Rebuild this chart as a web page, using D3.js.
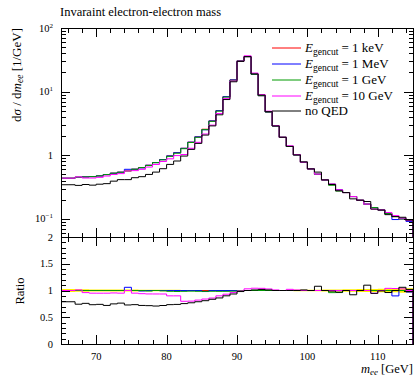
<!DOCTYPE html>
<html>
<head>
<meta charset="utf-8">
<script src="https://d3js.org/d3.v7.min.js"></script>
<style>
body { margin: 0; background: #fff; }
text { font-family: "Liberation Serif", serif; fill: #000; }
.tick line { stroke: #000; }
</style>
</head>
<body>
<svg id="chart" width="414" height="377"></svg>
<script>
// bin edges, 1 GeV wide, 65..115
var edges = d3.range(65, 116, 1);

// dsigma/dm_ee per bin
var ekev = [0.437, 0.437, 0.453, 0.458, 0.463, 0.475, 0.498, 0.524, 0.543, 0.569,
  0.605, 0.641, 0.699, 0.768, 0.856, 0.979, 1.10, 1.29, 1.61, 1.95,
  2.57, 3.47, 5.03, 8.35, 15.3, 30.5, 35.5, 18.8, 8.65, 4.80,
  2.89, 1.92, 1.38, 1.015, 0.779, 0.612, 0.505, 0.411, 0.352, 0.286,
  0.260, 0.225, 0.197, 0.171, 0.151, 0.139, 0.1216, 0.109, 0.1004, 0.0944];
var emev = [0.437, 0.437, 0.453, 0.458, 0.463, 0.475, 0.498, 0.524, 0.543, 0.603,
  0.605, 0.635, 0.699, 0.768, 0.856, 0.979, 1.10, 1.29, 1.61, 1.95,
  2.52, 3.47, 5.03, 8.35, 15.3, 30.5, 35.5, 18.8, 8.65, 4.80,
  2.89, 1.92, 1.38, 1.015, 0.779, 0.612, 0.505, 0.411, 0.352, 0.286,
  0.260, 0.225, 0.197, 0.171, 0.151, 0.139, 0.1216, 0.098, 0.1004, 0.0916];
var egev = [0.437, 0.437, 0.453, 0.458, 0.463, 0.475, 0.498, 0.524, 0.543, 0.569,
  0.605, 0.641, 0.692, 0.768, 0.850, 0.964, 1.08, 1.27, 1.59, 1.92,
  2.53, 3.42, 4.95, 8.22, 15.1, 30.5, 35.5, 18.8, 8.65, 4.80,
  2.89, 1.92, 1.38, 1.015, 0.779, 0.612, 0.505, 0.411, 0.338, 0.275,
  0.260, 0.225, 0.197, 0.171, 0.151, 0.139, 0.1216, 0.109, 0.1004, 0.0944];
var e10gev = [0.437, 0.437, 0.458, 0.440, 0.440, 0.451, 0.473, 0.500, 0.516, 0.569,
  0.575, 0.603, 0.654, 0.718, 0.800, 0.881, 0.990, 1.03, 1.29, 1.60,
  2.16, 2.98, 4.53, 7.77, 14.7, 30.2, 36.6, 19.6, 9.00, 4.94,
  2.92, 1.92, 1.41, 1.025, 0.779, 0.612, 0.505, 0.411, 0.352, 0.286,
  0.260, 0.225, 0.197, 0.171, 0.143, 0.139, 0.1265, 0.113, 0.1034, 0.0944];
var noqed = [0.345, 0.345, 0.337, 0.348, 0.340, 0.352, 0.359, 0.393, 0.415, 0.415,
  0.445, 0.462, 0.501, 0.545, 0.616, 0.720, 0.814, 0.974, 1.24, 1.54,
  2.08, 2.90, 4.33, 7.52, 14.3, 29.9, 35.5, 19.0, 8.82, 4.85,
  2.89, 1.92, 1.38, 1.015, 0.787, 0.612, 0.545, 0.411, 0.348, 0.277,
  0.260, 0.207, 0.197, 0.188, 0.143, 0.138, 0.117, 0.109, 0.1064, 0.0963];
// relative stat. error of the reference (yellow band)
var refErr = [0.03, 0.03, 0.025, 0.025, 0.02, 0.02, 0.02, 0.02, 0.02, 0.02,
  0.02, 0.015, 0.015, 0.015, 0.015, 0.012, 0.012, 0.01, 0.01, 0.01,
  0.008, 0.007, 0.006, 0.005, 0.004, 0.003, 0.003, 0.004, 0.005, 0.007,
  0.008, 0.01, 0.01, 0.012, 0.015, 0.015, 0.015, 0.02, 0.02, 0.02,
  0.025, 0.025, 0.03, 0.03, 0.03, 0.035, 0.035, 0.035, 0.04, 0.04];

var labels = ["1 keV", "1 MeV", "1 GeV", "10 GeV"];
var series = [
  {vals: ekev, color: "#ff0000"},
  {vals: emev, color: "#0000ff"},
  {vals: egev, color: "#009a00"},
  {vals: e10gev, color: "#ff00ff"},
  {vals: noqed, color: "#000000"}
];

var L = 61, R = 413, T = 28, M = 237, B = 344;
var svg = d3.select("#chart");

var x = d3.scaleLinear().domain([65, 115]).range([L, R]);
var yMain = d3.scaleLog().domain([Math.pow(10, -1.283), 100]).range([M, T]);
var yRat = d3.scaleLinear().domain([0, 2]).range([B, M]);

// clip regions
var defs = svg.append("defs");
defs.append("clipPath").attr("id", "cm").append("rect")
  .attr("x", L).attr("y", T).attr("width", R - L).attr("height", M - T);
defs.append("clipPath").attr("id", "cr").append("rect")
  .attr("x", L).attr("y", M).attr("width", R - L).attr("height", B - M);

function stepPoints(vals, base) {
  var pts = [[edges[0], base]];
  vals.forEach(function(v, i) {
    pts.push([edges[i], v]);
    pts.push([edges[i + 1], v]);
  });
  pts.push([edges[edges.length - 1], base]);
  return pts;
}

// main panel histograms
var lineMain = d3.line()
  .x(function(d) { return x(d[0]); })
  .y(function(d) { return yMain(Math.max(d[1], yMain.domain()[0])); });
var gm = svg.append("g").attr("clip-path", "url(#cm)");
series.forEach(function(s) {
  gm.append("path")
    .attr("d", lineMain(stepPoints(s.vals, yMain.domain()[0])))
    .attr("fill", "none")
    .attr("stroke", s.color)
    .attr("stroke-width", 1);
});

// ratio panel
var gr = svg.append("g").attr("clip-path", "url(#cr)");
var bandPts = [];
refErr.forEach(function(e, i) {
  bandPts.push([edges[i], e]);
  bandPts.push([edges[i + 1], e]);
});
gr.append("path")
  .attr("d", d3.area()
    .x(function(d) { return x(d[0]); })
    .y0(function(d) { return yRat(1 - d[1]); })
    .y1(function(d) { return yRat(1 + d[1]); })(bandPts))
  .attr("fill", "#ffee00");

var lineRat = d3.line()
  .x(function(d) { return x(d[0]); })
  .y(function(d) { return yRat(d[1]); });
series.forEach(function(s) {
  var r = s.vals.map(function(v, i) { return v / ekev[i]; });
  gr.append("path")
    .attr("d", lineRat(stepPoints(r, 0)))
    .attr("fill", "none")
    .attr("stroke", s.color)
    .attr("stroke-width", 1);
});

// ticks
var xMajor = [70, 80, 90, 100, 110];
var xMinor = d3.range(66, 115, 2).filter(function(v) { return v % 10 !== 0; });
var yMajor = [0.1, 1, 10, 100];
var yMinor = [];
[0.01, 0.1, 1, 10].forEach(function(d) {
  for (var k = 2; k <= 9; k++) {
    var v = d * k;
    if (v > yMain.domain()[0] && v < 100) yMinor.push(v);
  }
});
var rMajor = [0, 0.5, 1, 1.5, 2];
var rMinor = d3.range(1, 20).map(function(v) { return v / 10; })
  .filter(function(v) { return Math.abs(v * 2 - Math.round(v * 2)) > 1e-6; });

function addAxis(axis, tx, ty) {
  var g = svg.append("g").attr("transform", "translate(" + tx + "," + ty + ")").call(axis);
  g.select(".domain").remove();
  g.selectAll("text").remove();
  g.selectAll("line").attr("shape-rendering", "crispEdges");
}
var big = 9, small = 4.5;
[[xMajor, big], [xMinor, small]].forEach(function(p) {
  addAxis(d3.axisTop(x).tickValues(p[0]).tickSize(-p[1]), 0, T);
  addAxis(d3.axisBottom(x).tickValues(p[0]).tickSize(-p[1]), 0, M);
  addAxis(d3.axisTop(x).tickValues(p[0]).tickSize(-p[1]), 0, M);
  addAxis(d3.axisBottom(x).tickValues(p[0]).tickSize(-p[1]), 0, B);
});
[[yMajor, big], [yMinor, small]].forEach(function(p) {
  addAxis(d3.axisLeft(yMain).tickValues(p[0]).tickSize(-p[1]), L, 0);
  addAxis(d3.axisRight(yMain).tickValues(p[0]).tickSize(-p[1]), R, 0);
});
[[rMajor, big], [rMinor, small]].forEach(function(p) {
  addAxis(d3.axisLeft(yRat).tickValues(p[0]).tickSize(-p[1]), L, 0);
  addAxis(d3.axisRight(yRat).tickValues(p[0]).tickSize(-p[1]), R, 0);
});

// frames
svg.append("rect").attr("x", L).attr("y", T).attr("width", R - L).attr("height", M - T)
  .attr("fill", "none").attr("stroke", "#000").attr("shape-rendering", "crispEdges");
svg.append("rect").attr("x", L).attr("y", M).attr("width", R - L).attr("height", B - M)
  .attr("fill", "none").attr("stroke", "#000").attr("shape-rendering", "crispEdges");

// tick labels
var fs = 10.5;
var yLab = [{v: 100, e: "2"}, {v: 10, e: "1"}, {v: 1, e: null}, {v: 0.1, e: "\u22121"}];
yLab.forEach(function(d) {
  var t = svg.append("text").attr("x", 53).attr("y", yMain(d.v) + 3.5)
    .attr("text-anchor", "end").attr("font-size", fs);
  if (d.e) {
    t.append("tspan").text("10");
    t.append("tspan").attr("dy", -4).attr("font-size", 7).text(d.e);
  } else {
    t.text("1");
  }
});
rMajor.forEach(function(v) {
  svg.append("text").attr("x", 53).attr("y", yRat(v) + 3.5)
    .attr("text-anchor", "end").attr("font-size", fs).text(v);
});
xMajor.forEach(function(v) {
  svg.append("text").attr("x", x(v)).attr("y", 360)
    .attr("text-anchor", "middle").attr("font-size", fs).text(v);
});

// titles
svg.append("text").attr("x", 60).attr("y", 15.5).attr("font-size", 12.5)
  .text("Invaraint electron-electron mass");

var xl = svg.append("text").attr("x", R).attr("y", 373).attr("text-anchor", "end").attr("font-size", 12.5);
xl.append("tspan").attr("font-style", "italic").text("m");
xl.append("tspan").attr("font-style", "italic").attr("font-size", 9).attr("dy", 2).text("ee");
xl.append("tspan").attr("dy", -2).text(" [GeV]");

var yl = svg.append("text").attr("transform", "translate(21," + T + ") rotate(-90)")
  .attr("text-anchor", "end").attr("font-size", 13);
yl.append("tspan").text("d");
yl.append("tspan").attr("font-style", "italic").text("\u03c3");
yl.append("tspan").text(" / d");
yl.append("tspan").attr("font-style", "italic").text("m");
yl.append("tspan").attr("font-style", "italic").attr("font-size", 9.5).attr("dy", 2).text("ee");
yl.append("tspan").attr("dy", -2).text(" [1/GeV]");

svg.append("text").attr("transform", "translate(24,291) rotate(-90)")
  .attr("text-anchor", "middle").attr("font-size", 12.5).text("Ratio");

// legend
var legY = [48, 64, 80, 96, 111];
series.forEach(function(s, i) {
  svg.append("line").attr("x1", 272).attr("x2", 301)
    .attr("y1", legY[i]).attr("y2", legY[i])
    .attr("stroke", s.color).attr("stroke-width", 1);
  var t = svg.append("text").attr("x", 305).attr("y", legY[i] + 4).attr("font-size", 13);
  if (i < 4) {
    t.append("tspan").attr("font-style", "italic").text("E");
    t.append("tspan").attr("font-size", 9.5).attr("dy", 2.5).text("gencut");
    t.append("tspan").attr("dy", -2.5).text(" = " + labels[i]);
  } else {
    t.text("no QED");
  }
});
</script>
</body>
</html>
